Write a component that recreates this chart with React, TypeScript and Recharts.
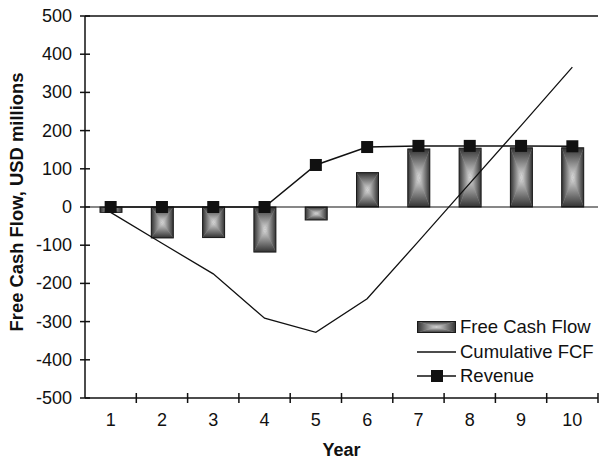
import {
  ComposedChart,
  Bar,
  Line,
  XAxis,
  YAxis,
  ReferenceLine,
  Legend,
} from "recharts";

const years = ["1", "2", "3", "4", "5", "6", "7", "8", "9", "10"];
const freeCashFlow = [-14, -81, -80, -118, -34, 90, 152, 154, 155, 155];
const cumulativeFcf = [-14, -95, -175, -291, -328, -240, -90, 62, 213, 366];
const revenue = [0, 0, 0, 0, 110, 157, 160, 160, 160, 159];
const yTicks = [-500, -400, -300, -200, -100, 0, 100, 200, 300, 400, 500];

const FONT = "'Liberation Sans', Arial, sans-serif";
const INK = "#111";

const data = years.map((year, i) => ({
  year,
  fcf: freeCashFlow[i],
  cumulative: cumulativeFcf[i],
  revenue: revenue[i],
}));

// "from center" rectangle gradient built out of four triangles
function GradientBox({ x, y, w, h }: { x: number; y: number; w: number; h: number }) {
  const cx = x + w / 2;
  const cy = y + h / 2;
  return (
    <g>
      <rect x={x} y={y} width={w} height={h} fill="#9a9a9a" />
      <polygon points={`${x},${y} ${x + w},${y} ${cx},${cy}`} fill="url(#gTop)" />
      <polygon points={`${x},${y + h} ${x + w},${y + h} ${cx},${cy}`} fill="url(#gBottom)" />
      <polygon points={`${x},${y} ${x},${y + h} ${cx},${cy}`} fill="url(#gLeft)" />
      <polygon points={`${x + w},${y} ${x + w},${y + h} ${cx},${cy}`} fill="url(#gRight)" />
      <rect x={x} y={y} width={w} height={h} fill="none" stroke="#1a1a1a" strokeWidth={1} />
    </g>
  );
}

function GradientBar(props: any) {
  const { x, y, width, height } = props;
  if (width == null || height == null) return null;
  const top = height < 0 ? y + height : y;
  return <GradientBox x={x} y={top} w={width} h={Math.abs(height)} />;
}

function SquareDot(props: any) {
  const { cx, cy } = props;
  if (cx == null || cy == null) return null;
  return <rect x={cx - 6} y={cy - 6} width={12} height={12} fill={INK} />;
}

function XTick(props: any) {
  const { x, y, payload } = props;
  const half = payload.offset ?? 25.65;
  return (
    <g>
      <line x1={x + half} x2={x + half} y1={y - 5} y2={y + 5} stroke={INK} strokeWidth={1.5} />
      <text
        x={x}
        y={y + 22}
        textAnchor="middle"
        dominantBaseline="central"
        fontSize={18}
        fontFamily={FONT}
        fill={INK}
      >
        {payload.value}
      </text>
    </g>
  );
}

function YTick(props: any) {
  const { x, y, payload } = props;
  return (
    <g>
      <line x1={x - 5} x2={x + 5} y1={y} y2={y} stroke={INK} strokeWidth={1.5} />
      <text
        x={x - 13}
        y={y}
        textAnchor="end"
        dominantBaseline="central"
        fontSize={18}
        fontFamily={FONT}
        fill={INK}
      >
        {payload.value}
      </text>
    </g>
  );
}

function LegendContent() {
  const rowStyle = {
    display: "flex",
    alignItems: "center",
    height: 24.5,
  } as const;
  const textStyle = {
    fontSize: 18.5,
    fontFamily: FONT,
    color: INK,
    marginLeft: 4,
    whiteSpace: "nowrap",
  } as const;
  return (
    <div>
      <div style={rowStyle}>
        <svg width={39} height={14}>
          <GradientBox x={0.5} y={1.5} w={38} h={11} />
        </svg>
        <span style={textStyle}>Free Cash Flow</span>
      </div>
      <div style={rowStyle}>
        <svg width={39} height={14}>
          <line x1={0} x2={39} y1={7} y2={7} stroke={INK} strokeWidth={1.5} />
        </svg>
        <span style={textStyle}>Cumulative FCF</span>
      </div>
      <div style={rowStyle}>
        <svg width={39} height={14}>
          <line x1={0} x2={39} y1={7} y2={7} stroke={INK} strokeWidth={1.5} />
          <rect x={14} y={1} width={12} height={12} fill={INK} />
        </svg>
        <span style={textStyle}>Revenue</span>
      </div>
    </div>
  );
}

export default function App() {
  return (
    <div style={{ position: "absolute", left: 0, top: 0, background: "#fff" }}>
      <ComposedChart
        width={599}
        height={459}
        data={data}
        margin={{ top: 16, right: 1, bottom: 0, left: 0 }}
      >
        <defs>
          <linearGradient id="gTop" x1="0" y1="0" x2="0" y2="1">
            <stop offset="0%" stopColor="#333" />
            <stop offset="100%" stopColor="#dcdcdc" />
          </linearGradient>
          <linearGradient id="gBottom" x1="0" y1="0" x2="0" y2="1">
            <stop offset="0%" stopColor="#dcdcdc" />
            <stop offset="100%" stopColor="#333" />
          </linearGradient>
          <linearGradient id="gLeft" x1="0" y1="0" x2="1" y2="0">
            <stop offset="0%" stopColor="#333" />
            <stop offset="100%" stopColor="#dcdcdc" />
          </linearGradient>
          <linearGradient id="gRight" x1="0" y1="0" x2="1" y2="0">
            <stop offset="0%" stopColor="#dcdcdc" />
            <stop offset="100%" stopColor="#333" />
          </linearGradient>
        </defs>
        <XAxis
          dataKey="year"
          height={61}
          tickSize={0}
          tickMargin={0}
          tickLine={false}
          axisLine={{ stroke: INK, strokeWidth: 1.5 }}
          tick={<XTick />}
          interval={0}
          label={{
            content: ({ viewBox }: any) => (
              <text
                x={viewBox.x + viewBox.width / 2}
                y={viewBox.y + 52}
                textAnchor="middle"
                dominantBaseline="central"
                fontSize={18}
                fontWeight="bold"
                fontFamily={FONT}
                fill={INK}
              >
                Year
              </text>
            ),
          }}
        />
        <YAxis
          width={85}
          domain={[-500, 500]}
          ticks={yTicks}
          interval={0}
          tickSize={0}
          tickMargin={0}
          tickLine={false}
          axisLine={{ stroke: INK, strokeWidth: 1.5 }}
          tick={<YTick />}
          label={{
            content: ({ viewBox }: any) => {
              const cx = 16;
              const cy = viewBox.y + viewBox.height / 2 - 5;
              return (
                <text
                  x={cx}
                  y={cy}
                  transform={`rotate(-90 ${cx} ${cy})`}
                  textAnchor="middle"
                  dominantBaseline="central"
                  fontSize={18.4}
                  fontWeight="bold"
                  fontFamily={FONT}
                  fill={INK}
                >
                  Free Cash Flow, USD millions
                </text>
              );
            },
          }}
        />
        <YAxis
          yAxisId="frame"
          orientation="right"
          width={0}
          domain={[-500, 500]}
          tick={false}
          tickLine={false}
          axisLine={{ stroke: INK, strokeWidth: 1.5 }}
        />
        <ReferenceLine y={500} stroke={INK} strokeWidth={1.5} />
        <ReferenceLine y={0} stroke={INK} strokeWidth={1.2} />
        <Legend
          layout="vertical"
          align="center"
          verticalAlign="middle"
          content={<LegendContent />}
          wrapperStyle={{ left: 417, top: 315, width: 182 }}
        />
        <Bar
          dataKey="fcf"
          name="Free Cash Flow"
          barSize={22}
          shape={<GradientBar />}
          isAnimationActive={false}
        />
        <Line
          type="linear"
          dataKey="cumulative"
          name="Cumulative FCF"
          stroke={INK}
          strokeWidth={1.3}
          dot={false}
          isAnimationActive={false}
        />
        <Line
          type="linear"
          dataKey="revenue"
          name="Revenue"
          stroke={INK}
          strokeWidth={1.5}
          dot={<SquareDot />}
          isAnimationActive={false}
        />
      </ComposedChart>
    </div>
  );
}
